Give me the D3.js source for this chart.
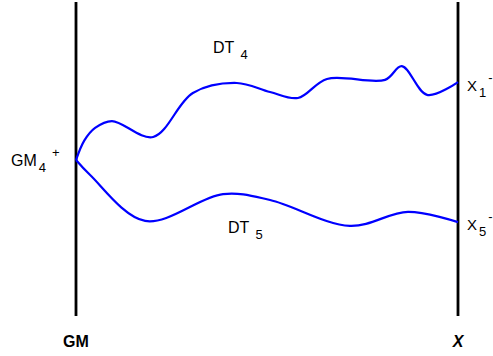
<!DOCTYPE html>
<html>
<head>
<meta charset="utf-8">
<script src="https://cdn.jsdelivr.net/npm/d3@7/dist/d3.min.js"></script>
<style>
  html, body { margin: 0; padding: 0; background: #fff; }
  svg { display: block; font-family: Arial, "Liberation Sans", sans-serif; }
</style>
</head>
<body>
<svg id="chart" width="493" height="356"></svg>
<script>
// Reaction coordinate (0 = GM, 100 = X) and relative energy level of each path
const upperX = [0, 2.2, 5.0, 9.4, 20.2, 30.6, 42.1, 50.8, 58.1, 65.7, 80.9, 85.3, 91.9, 100];
const upperY = [48.7, 55.0, 59.0, 61.2, 56.1, 70.2, 73.4, 70.5, 68.6, 74.7, 74.4, 78.8, 69.6, 73.7];
const lowerX = [0, 3.7, 18.1, 38.5, 50.8, 71.7, 86.9, 100];
const lowerY = [48.7, 43.9, 29.2, 37.8, 35.9, 27.6, 32.1, 28.8];
const endpoints = ["GM", "X"];

const svg = d3.select("#chart");
const x = d3.scaleLinear().domain([0, 100]).range([76, 458]);
const y = d3.scaleLinear().domain([0, 100]).range([312, 0]);

// Boundary lines for the two endpoints
svg.selectAll("line.bound")
  .data([0, 100])
  .join("line")
  .attr("class", "bound")
  .attr("x1", d => x(d)).attr("x2", d => x(d))
  .attr("y1", 2).attr("y2", 316)
  .attr("stroke", "#000")
  .attr("stroke-width", 2.8);

const line = d3.line()
  .x(d => x(d[0]))
  .y(d => y(d[1]))
  .curve(d3.curveCatmullRom.alpha(0.5));

const paths = [d3.zip(upperX, upperY), d3.zip(lowerX, lowerY)];
svg.selectAll("path.route")
  .data(paths)
  .join("path")
  .attr("class", "route")
  .attr("d", line)
  .attr("fill", "none")
  .attr("stroke", "#0000ff")
  .attr("stroke-width", 2.2);

// Labels with sub/superscripts
function label(px, py, main, sub, sup, size, subSize, supDx) {
  const t = svg.append("text").attr("x", px).attr("y", py)
    .attr("font-size", size).attr("fill", "#000");
  t.append("tspan").text(main);
  if (sub) t.append("tspan").attr("dx", 2).attr("dy", 6).attr("font-size", subSize).text(sub);
  if (sup) t.append("tspan").attr("dx", supDx).attr("dy", -15)
    .attr("font-size", subSize).text(sup);
  return t;
}

label(213, 53, "DT ", "4", null, 16, 13, 0);
label(228, 233, "DT ", "5", null, 16, 13, 0);
label(11, 166, "GM", "4", "+", 16, 13, 6);
label(467, 91, "X", "1", "-", 15, 13, 2);
label(467, 230, "X", "5", "-", 15, 13, 2);

// Endpoint names along the bottom
svg.selectAll("text.end")
  .data(endpoints)
  .join("text")
  .attr("class", "end")
  .attr("x", (d, i) => x(i * 100))
  .attr("y", 347)
  .attr("text-anchor", "middle")
  .attr("font-size", 16)
  .attr("font-weight", "bold")
  .attr("font-style", (d, i) => i === 1 ? "italic" : "normal")
  .text(d => d);
</script>
</body>
</html>
